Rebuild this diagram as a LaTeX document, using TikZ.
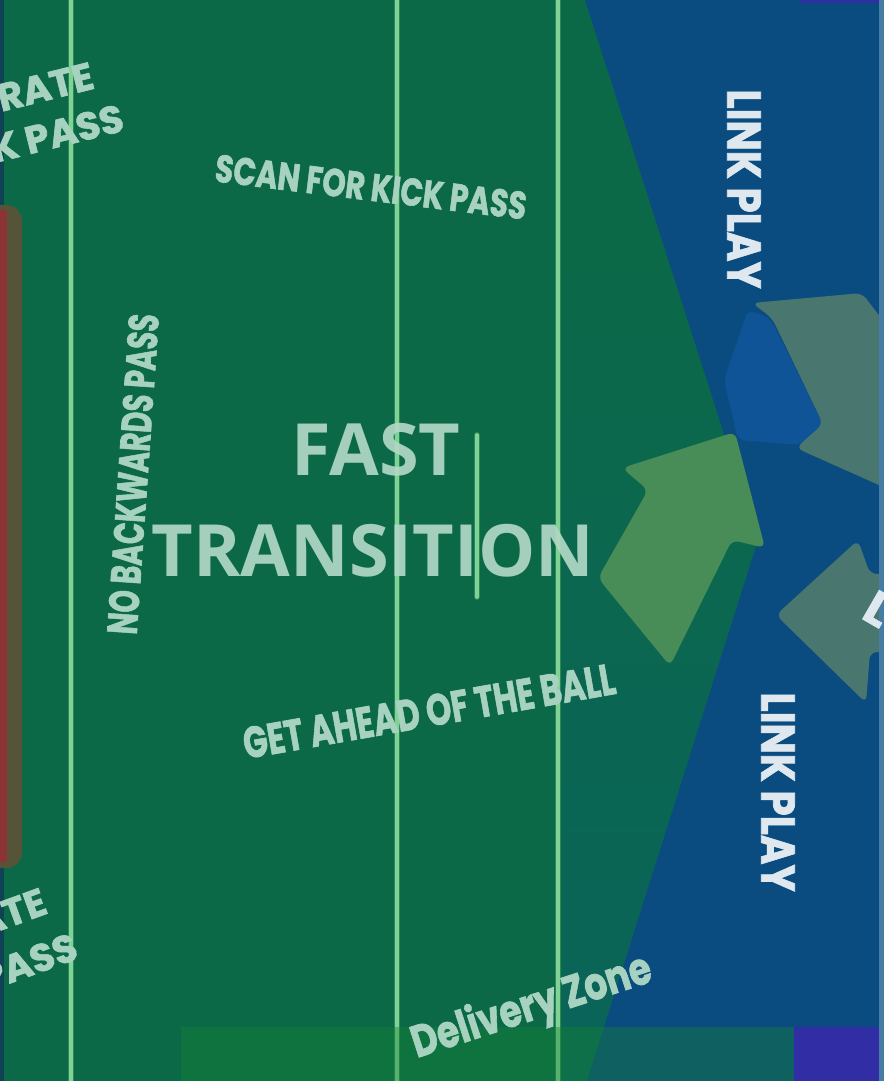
\documentclass[tikz,border=0pt]{standalone}
\usepackage{fontspec}
\setmainfont{Open Sans}
\newfontfamily\rough{Poppins}[BoldFeatures={FakeBold=1.6}]
\newfontfamily\titlefont{Open Sans}
\definecolor{field}{RGB}{11,105,72}
\definecolor{tealzone}{RGB}{10,100,90}
\definecolor{bluezone}{RGB}{10,76,128}
\definecolor{brightblue}{RGB}{14,84,150}
\definecolor{arrowgreen}{RGB}{72,140,88}
\definecolor{arrowgrey}{RGB}{74,118,112}
\definecolor{linecore}{RGB}{130,210,150}
\definecolor{lineglow}{RGB}{60,160,100}
\definecolor{mint}{RGB}{168,210,192}
\definecolor{titlemint}{RGB}{178,216,198}
\definecolor{linkwhite}{RGB}{222,232,238}
\definecolor{redbar}{RGB}{140,52,52}
\definecolor{olivebar}{RGB}{86,84,56}
\definecolor{edgedark}{RGB}{14,66,84}
\definecolor{purplebar}{RGB}{48,45,165}
\definecolor{edgelight}{RGB}{70,125,165}
\definecolor{lightgreen}{RGB}{20,130,50}
\begin{document}
\begin{tikzpicture}[x=0.02cm,y=-0.02cm,
  lbl/.style={text=mint, font=\rough\bfseries, inner sep=0pt},
  linkbl/.style={text=linkwhite, font=\rough\bfseries\fontsize{27}{27}\selectfont, inner sep=0pt},
  title/.style={text=titlemint, font=\titlefont\bfseries\fontsize{41}{41}\selectfont, inner sep=0pt, opacity=0.92},
  fieldline/.style={draw=lineglow, line width=3.4pt, opacity=0.6},
  fieldcore/.style={draw=linecore, line width=2.1pt},
  arrowshape/.style={rounded corners=4pt}]
\useasboundingbox (0,0) rectangle (884,1081);
\begin{scope}
\clip (0,0) rectangle (884,1081);
% background
\fill[field] (0,0) rectangle (884,1081);
\shade[top color=field, bottom color=tealzone] (562,250) rectangle (884,1081);
\fill[bluezone] (585,0) -- (884,0) -- (884,1081) -- (587,1081) -- (758,540) -- cycle;
% left edge and red bar
\fill[edgedark] (0,0) rectangle (4,1081);
\fill[olivebar, rounded corners=9pt] (-20,205) rectangle (22,868);
\fill[redbar] (0,210) rectangle (7,862);
% field lines
\foreach \xx in {71,397,558} {
  \draw[fieldline] (\xx,0) -- (\xx,1081);
  \draw[fieldcore] (\xx,0) -- (\xx,1081);
}
\draw[fieldline, line cap=round] (477,435) -- (477,597);
\draw[fieldcore, line cap=round] (477,435) -- (477,597);
% bright blue patch behind the arrows
\fill[brightblue, arrowshape] (748,310) -- (770,318) -- (823,424) -- (800,445) -- (738,440) -- (724,380) -- cycle;
% arrows
\fill[arrowgrey, arrowshape] (752,303) -- (862,293) -- (890,330) -- (890,490) -- (796,448) -- (823,424) -- (772,318) -- cycle;
\fill[arrowgreen, arrowshape] (622,468) -- (735,432) -- (765,548) -- (732,540) -- (670,666) -- (598,578) -- (648,490) -- cycle;
\fill[arrowgrey, arrowshape] (776,615) -- (858,540) -- (870,574) -- (890,574) -- (890,652) -- (870,652) -- (866,703) -- cycle;
% bottom strips
\fill[lightgreen, opacity=0.4] (181,1027) rectangle (794,1081);
\fill[purplebar] (794,1027) rectangle (884,1081);
\fill[purplebar] (800,0) rectangle (884,3);
\fill[edgelight] (879,0) rectangle (884,1081);
% texts
\node[title] (fast) at (376,450) {FAST};
\node[title] (trans) at (373,551) {TRANSITION};
\node[lbl, font=\rough\bfseries\fontsize{22}{22}\selectfont, rotate=-7, xscale=0.77] (scan) at (371,187) {SCAN FOR KICK PASS};
\node[lbl, font=\rough\bfseries\fontsize{24}{24}\selectfont, rotate=86, xscale=0.68] (nob) at (133,474) {NO BACKWARDS PASS};
\node[lbl, font=\rough\bfseries\fontsize{25}{25}\selectfont, rotate=10, xscale=0.73] (ahead) at (429,711) {GET AHEAD OF THE BALL};
\node[lbl, font=\rough\bfseries\fontsize{25.5}{25.5}\selectfont, rotate=18, xscale=0.8] (deliv) at (532,1008) {Delivery Zone};
\node[linkbl, rotate=-90, xscale=0.85] (link1) at (744,189) {LINK PLAY};
\node[linkbl, rotate=-90, xscale=0.85] (link2) at (778,792) {LINK PLAY};
\node[linkbl, rotate=-30, anchor=west] (link3) at (868,603) {L};
% clipped labels on the left edge
\node[lbl, font=\rough\bfseries\fontsize{22}{22}\selectfont, rotate=14, anchor=east] (rate) at (93,75) {RATE};
\node[lbl, font=\rough\bfseries\fontsize{22}{22}\selectfont, rotate=14, anchor=east] (kpass) at (123,117) {K PASS};
\node[lbl, font=\rough\bfseries\fontsize{22}{22}\selectfont, rotate=20, anchor=east] (te) at (45,900) {ATE};
\node[lbl, font=\rough\bfseries\fontsize{22}{22}\selectfont, rotate=20, anchor=east] (pass2) at (76,945) {PASS};
\end{scope}
\end{tikzpicture}
\end{document}
